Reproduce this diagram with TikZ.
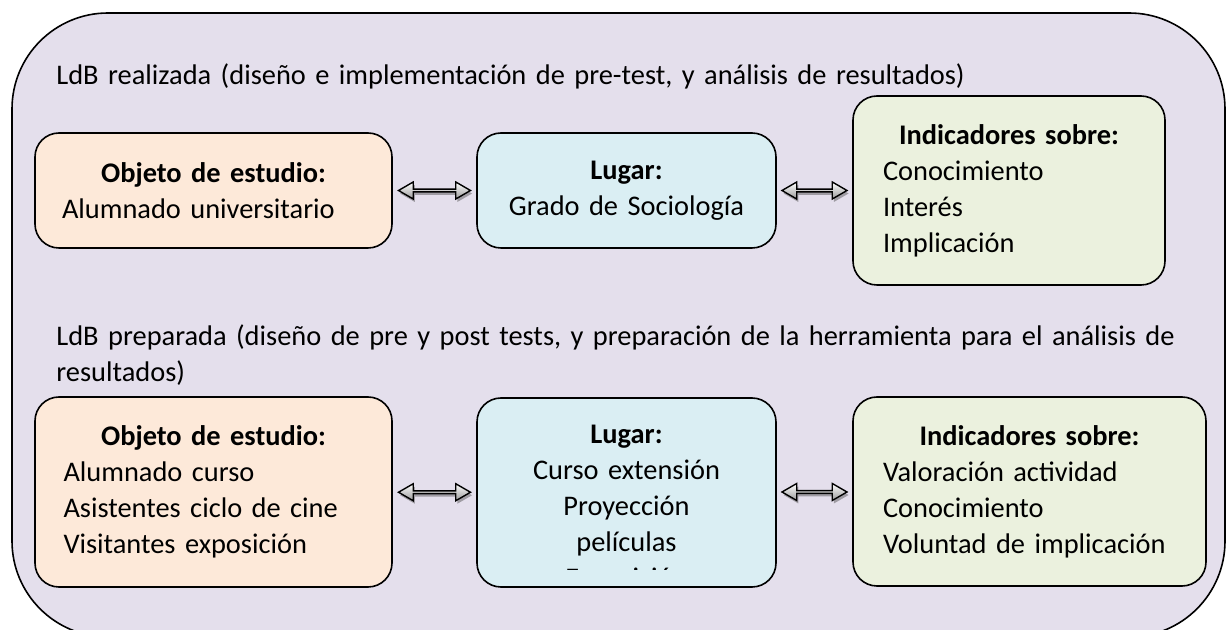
\documentclass[tikz,border=0pt]{standalone}
\usepackage{fontspec}
\setmainfont{Carlito}
\usepackage{tikz}
\usetikzlibrary{shapes.arrows,shadows,calc}
\usepackage{xcolor}
\definecolor{lavanda}{HTML}{E4DFEC}
\definecolor{durazno}{HTML}{FDE9D9}
\definecolor{celeste}{HTML}{DAEEF3}
\definecolor{verdoso}{HTML}{EBF1DE}
\DeclareRobustCommand{\fuente}{\fontsize{14.2}{18}\selectfont\setlength{\spaceskip}{0.15em plus 0.05em}}
\tikzset{
	texto/.style={font=\fuente, inner sep=0pt},
	caja/.style={texto, draw, line width=0.8pt, rounded corners=12pt, align=left},
	flecha/.style={double arrow, draw, line width=0.7pt, inner sep=0pt,
		minimum width=8.5pt, double arrow head extend=1.8pt, double arrow tip angle=60,
		top color=white, bottom color=black!40,
		drop shadow={shadow xshift=0.8pt, shadow yshift=-1.5pt, opacity=.45, fill=black!70}}
}
\newcommand{\linea}[1]{\mbox{#1}}

\begin{document}
\begin{tikzpicture}[x=0.5pt, y=-0.5pt]
	\useasboundingbox (0,0) rectangle (1228,630);
	\draw[fill=lavanda, line width=0.8pt, rounded corners=48pt] (12,13) rectangle (1225,637);
%
	\node[texto, anchor=base west, text width=600pt, align=left] (ldb1) at (56,85)
		{LdB realizada (diseño e implementación de pre-test, y análisis de resultados)};
	\node[texto, anchor=base west, text width=600pt, align=left] (ldb2) at (56,346)
		{\linea{LdB preparada (diseño de pre y post tests, y preparación de la herramienta para el análisis de}\\resultados)};
%
	\node[caja, fill=durazno, minimum width=178.5pt, minimum height=57.5pt, text width=151.5pt, inner xsep=13.5pt] (obj1) at (213.5,190.5)
		{{\centering\textbf{Objeto de estudio:}\par}\linea{Alumnado universitario}};
	\node[caja, fill=celeste, minimum width=149.5pt, minimum height=57.5pt, text width=129.5pt, inner xsep=10pt, align=center] (lug1) at (626.5,190.5)
		{\textbf{Lugar:}\\Grado de Sociología};
	\node[caja, fill=verdoso, minimum width=156pt, minimum height=94.5pt, text width=126pt, inner xsep=15pt] (ind1) at (1009,190.5)
		{{\centering\textbf{Indicadores sobre:}\par}Conocimiento\\Interés\\Implicación};
%
	\node[caja, fill=durazno, minimum width=178.5pt, minimum height=95pt, text width=150pt, inner xsep=14.25pt] (obj2) at (213.5,492)
		{{\centering\textbf{Objeto de estudio:}\par}\linea{Alumnado curso}\\\linea{Asistentes ciclo de cine}\\\linea{Visitantes exposición}};
	\node[caja, fill=celeste, minimum width=149.5pt, minimum height=94.5pt] (lug2) at (626.5,492.5) {};
	\node[caja, fill=verdoso, minimum width=176.5pt, minimum height=94.5pt, text width=146.5pt, inner xsep=15pt] (ind2) at (1029.5,491.5)
		{{\centering\textbf{Indicadores sobre:}\par}\linea{Valoración actividad}\\Conocimiento\\\linea{Voluntad de implicación}};
	\begin{scope}
		\clip (477,398) rectangle (776,570);
		\node[texto, anchor=base, text width=140pt, align=center] (lug2txt) at (626.5,444)
			{\textbf{Lugar:}\\Curso extensión\\Proyección\\películas\\Exposición};
	\end{scope}
%
	\node[flecha, minimum height=36pt] (f1) at ($(obj1.east)!.5!(lug1.west)$) {};
	\node[flecha, minimum height=32.5pt] (f2) at ($(lug1.east)!.5!(ind1.west)$) {};
	\node[flecha, minimum height=36pt] (f3) at ($(obj2.east)!.5!(lug2.west)$) {};
	\node[flecha, minimum height=32.5pt] (f4) at ($(lug2.east)!.5!(ind2.west)$) {};
\end{tikzpicture}
\end{document}
